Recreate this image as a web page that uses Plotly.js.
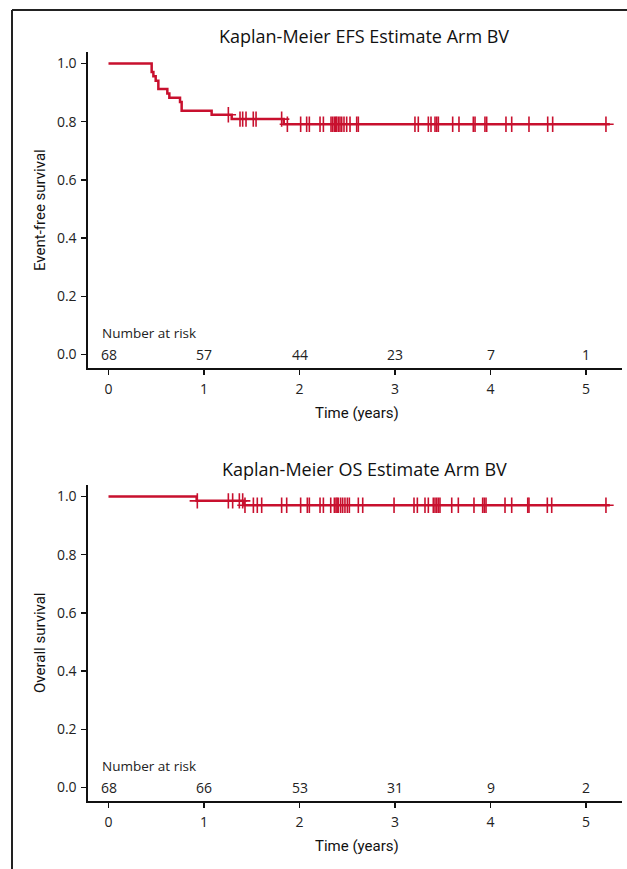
<!DOCTYPE html>
<html>
<head>
<meta charset="utf-8">
<script src="https://cdn.plot.ly/plotly-3.0.1.min.js"></script>
<style>html,body{margin:0;padding:0;background:#fff;}#chart{width:627px;height:869px;}</style>
</head>
<body>
<div id="chart"></div>
<script>
// ---- data ----
const efsEventTimes = [0.452, 0.470, 0.494, 0.522, 0.616, 0.637, 0.749, 0.766, 1.080, 1.290, 1.835];
const efsSurvival   = [0.971, 0.956, 0.941, 0.912, 0.897, 0.882, 0.868, 0.838, 0.824, 0.809, 0.791];
const efsCensorTimes = [1.255, 1.377, 1.405, 1.440, 1.516, 1.545, 1.813, 1.873, 2.012, 2.075, 2.103, 2.215,
  2.250, 2.330, 2.347, 2.365, 2.379, 2.389, 2.407, 2.424, 2.442, 2.466, 2.494, 2.529, 2.599, 2.616,
  3.209, 3.244, 3.349, 3.377, 3.419, 3.437, 3.454, 3.604, 3.670, 3.820, 3.838, 3.942, 3.960,
  4.162, 4.222, 4.403, 4.599, 4.651, 5.209];
const efsAtRisk = [68, 57, 44, 23, 7, 1];

const osEventTimes = [0.923, 1.419];
const osSurvival   = [0.985, 0.970];
const osCensorTimes = [0.930, 1.255, 1.300, 1.370, 1.405, 1.429, 1.517, 1.558, 1.604, 1.813, 1.866,
  2.012, 2.082, 2.103, 2.215, 2.250, 2.327, 2.365, 2.382, 2.394, 2.407, 2.431, 2.452, 2.476, 2.501, 2.522,
  2.616, 2.662, 2.990, 3.199, 3.234, 3.314, 3.349, 3.401, 3.419, 3.437, 3.454, 3.471, 3.594, 3.663,
  3.827, 3.918, 3.935, 3.953, 4.152, 4.222, 4.390, 4.403, 4.595, 4.641, 5.209];
const osAtRisk = [68, 66, 53, 31, 9, 2];

const yearTicks = [0, 1, 2, 3, 4, 5];
const survTicks = [0, 0.2, 0.4, 0.6, 0.8, 1.0];
const survTickText = ['0.0', '0.2', '0.4', '0.6', '0.8', '1.0'];
const followUpEnd = 5.25;

// ---- helpers ----
const RED = '#c8102e';
function stepXY(times, surv) {
  return { x: [0].concat(times, [followUpEnd]), y: [1].concat(surv, [surv[surv.length - 1]]) };
}
function survAt(times, surv, t) {
  let s = 1;
  for (let i = 0; i < times.length; i++) if (times[i] <= t) s = surv[i];
  return s;
}
const efsStep = stepXY(efsEventTimes, efsSurvival);
const osStep = stepXY(osEventTimes, osSurvival);

const lineStyle = { color: RED, width: 2.5, shape: 'hv' };
const censorMarker = { symbol: 'cross-thin', size: 11, color: RED, line: { color: RED, width: 1.6 } };

const traces = [
  { x: efsStep.x, y: efsStep.y, mode: 'lines', line: lineStyle, xaxis: 'x', yaxis: 'y', hoverinfo: 'skip' },
  { x: efsCensorTimes, y: efsCensorTimes.map(t => survAt(efsEventTimes, efsSurvival, t)), mode: 'markers',
    marker: censorMarker, xaxis: 'x', yaxis: 'y', hoverinfo: 'skip' },
  { x: osStep.x, y: osStep.y, mode: 'lines', line: lineStyle, xaxis: 'x2', yaxis: 'y2', hoverinfo: 'skip' },
  { x: osCensorTimes, y: osCensorTimes.map(t => survAt(osEventTimes, osSurvival, t)), mode: 'markers',
    marker: censorMarker, xaxis: 'x2', yaxis: 'y2', hoverinfo: 'skip' }
];

const W = 627, H = 869;
const FONT = '"Open Sans", Lato, sans-serif';
const NARROW = 'Roboto, "Liberation Sans Narrow", sans-serif';
const xRange = [-0.2147, 5.377];
const yRange = [-0.0464, 1.0395];
const xDomain = [88 / W, 622 / W];

function xAxis(anchor) {
  return { domain: xDomain, range: xRange, anchor: anchor, showline: true, linecolor: '#111', linewidth: 1.6,
    ticks: 'outside', ticklen: 5, tickwidth: 1.5, tickcolor: '#111', tickvals: yearTicks, ticklabelstandoff: 3,
    showgrid: false, zeroline: false, tickfont: { family: FONT, size: 14, color: '#222' }, fixedrange: true };
}
function yAxis(anchor, dom) {
  return { domain: dom, range: yRange, anchor: anchor, showline: true, linecolor: '#111', linewidth: 1.6,
    ticks: 'outside', ticklen: 5, tickwidth: 1.5, tickcolor: '#111', tickvals: survTicks, ticktext: survTickText,
    ticklabelstandoff: 2,
    showgrid: false, zeroline: false, tickfont: { family: FONT, size: 14, color: '#222' }, fixedrange: true };
}

const annotations = [];
function addPanel(xr, yr, title, ytitle, atRisk, offsetPx) {
  annotations.push({ xref: 'paper', yref: 'paper', x: 364 / W, y: 1 - (36 + offsetPx) / H, text: title,
    showarrow: false, font: { family: FONT, size: 18, color: '#111' }, xanchor: 'center', yanchor: 'middle' });
  annotations.push({ xref: 'paper', yref: 'paper', x: 40 / W, y: 1 - (210 + offsetPx) / H, text: ytitle,
    textangle: -90, showarrow: false, font: { family: NARROW, size: 15, color: '#111' }, xanchor: 'center', yanchor: 'middle' });
  annotations.push({ xref: 'paper', yref: 'paper', x: 357 / W, y: 1 - (413 + offsetPx) / H, text: 'Time (years)',
    showarrow: false, font: { family: NARROW, size: 15, color: '#111' }, xanchor: 'center', yanchor: 'middle' });
  annotations.push({ xref: xr, yref: yr, x: -0.089, y: 0.074, text: 'Number at risk', showarrow: false,
    font: { family: FONT, size: 13.5, color: '#222' }, xanchor: 'left', yanchor: 'middle' });
  atRisk.forEach((n, i) => annotations.push({ xref: xr, yref: yr, x: yearTicks[i], y: 0, text: String(n),
    showarrow: false, font: { family: FONT, size: 14, color: '#222' }, xanchor: 'center', yanchor: 'middle' }));
}
addPanel('x', 'y', 'Kaplan-Meier EFS Estimate Arm BV', 'Event-free survival', efsAtRisk, 0);
addPanel('x2', 'y2', 'Kaplan-Meier OS Estimate Arm BV', 'Overall survival', osAtRisk, 433);

const layout = {
  width: W, height: H, margin: { l: 0, r: 0, t: 0, b: 0 }, showlegend: false,
  paper_bgcolor: '#fff', plot_bgcolor: '#fff',
  xaxis: xAxis('y'), yaxis: yAxis('x', [1 - 368 / H, 1 - 52 / H]),
  xaxis2: xAxis('y2'), yaxis2: yAxis('x2', [1 - 801 / H, 1 - 485 / H]),
  annotations: annotations,
  shapes: [
    { type: 'line', xref: 'paper', yref: 'paper', x0: 12 / W, x1: 12 / W, y0: 0, y1: 1 - 10 / H, line: { color: '#222', width: 2 } },
    { type: 'line', xref: 'paper', yref: 'paper', x0: 12 / W, x1: 1, y0: 1 - 10 / H, y1: 1 - 10 / H, line: { color: '#222', width: 2 } }
  ]
};
Plotly.newPlot('chart', traces, layout, { displayModeBar: false, staticPlot: true });
</script>
</body>
</html>
